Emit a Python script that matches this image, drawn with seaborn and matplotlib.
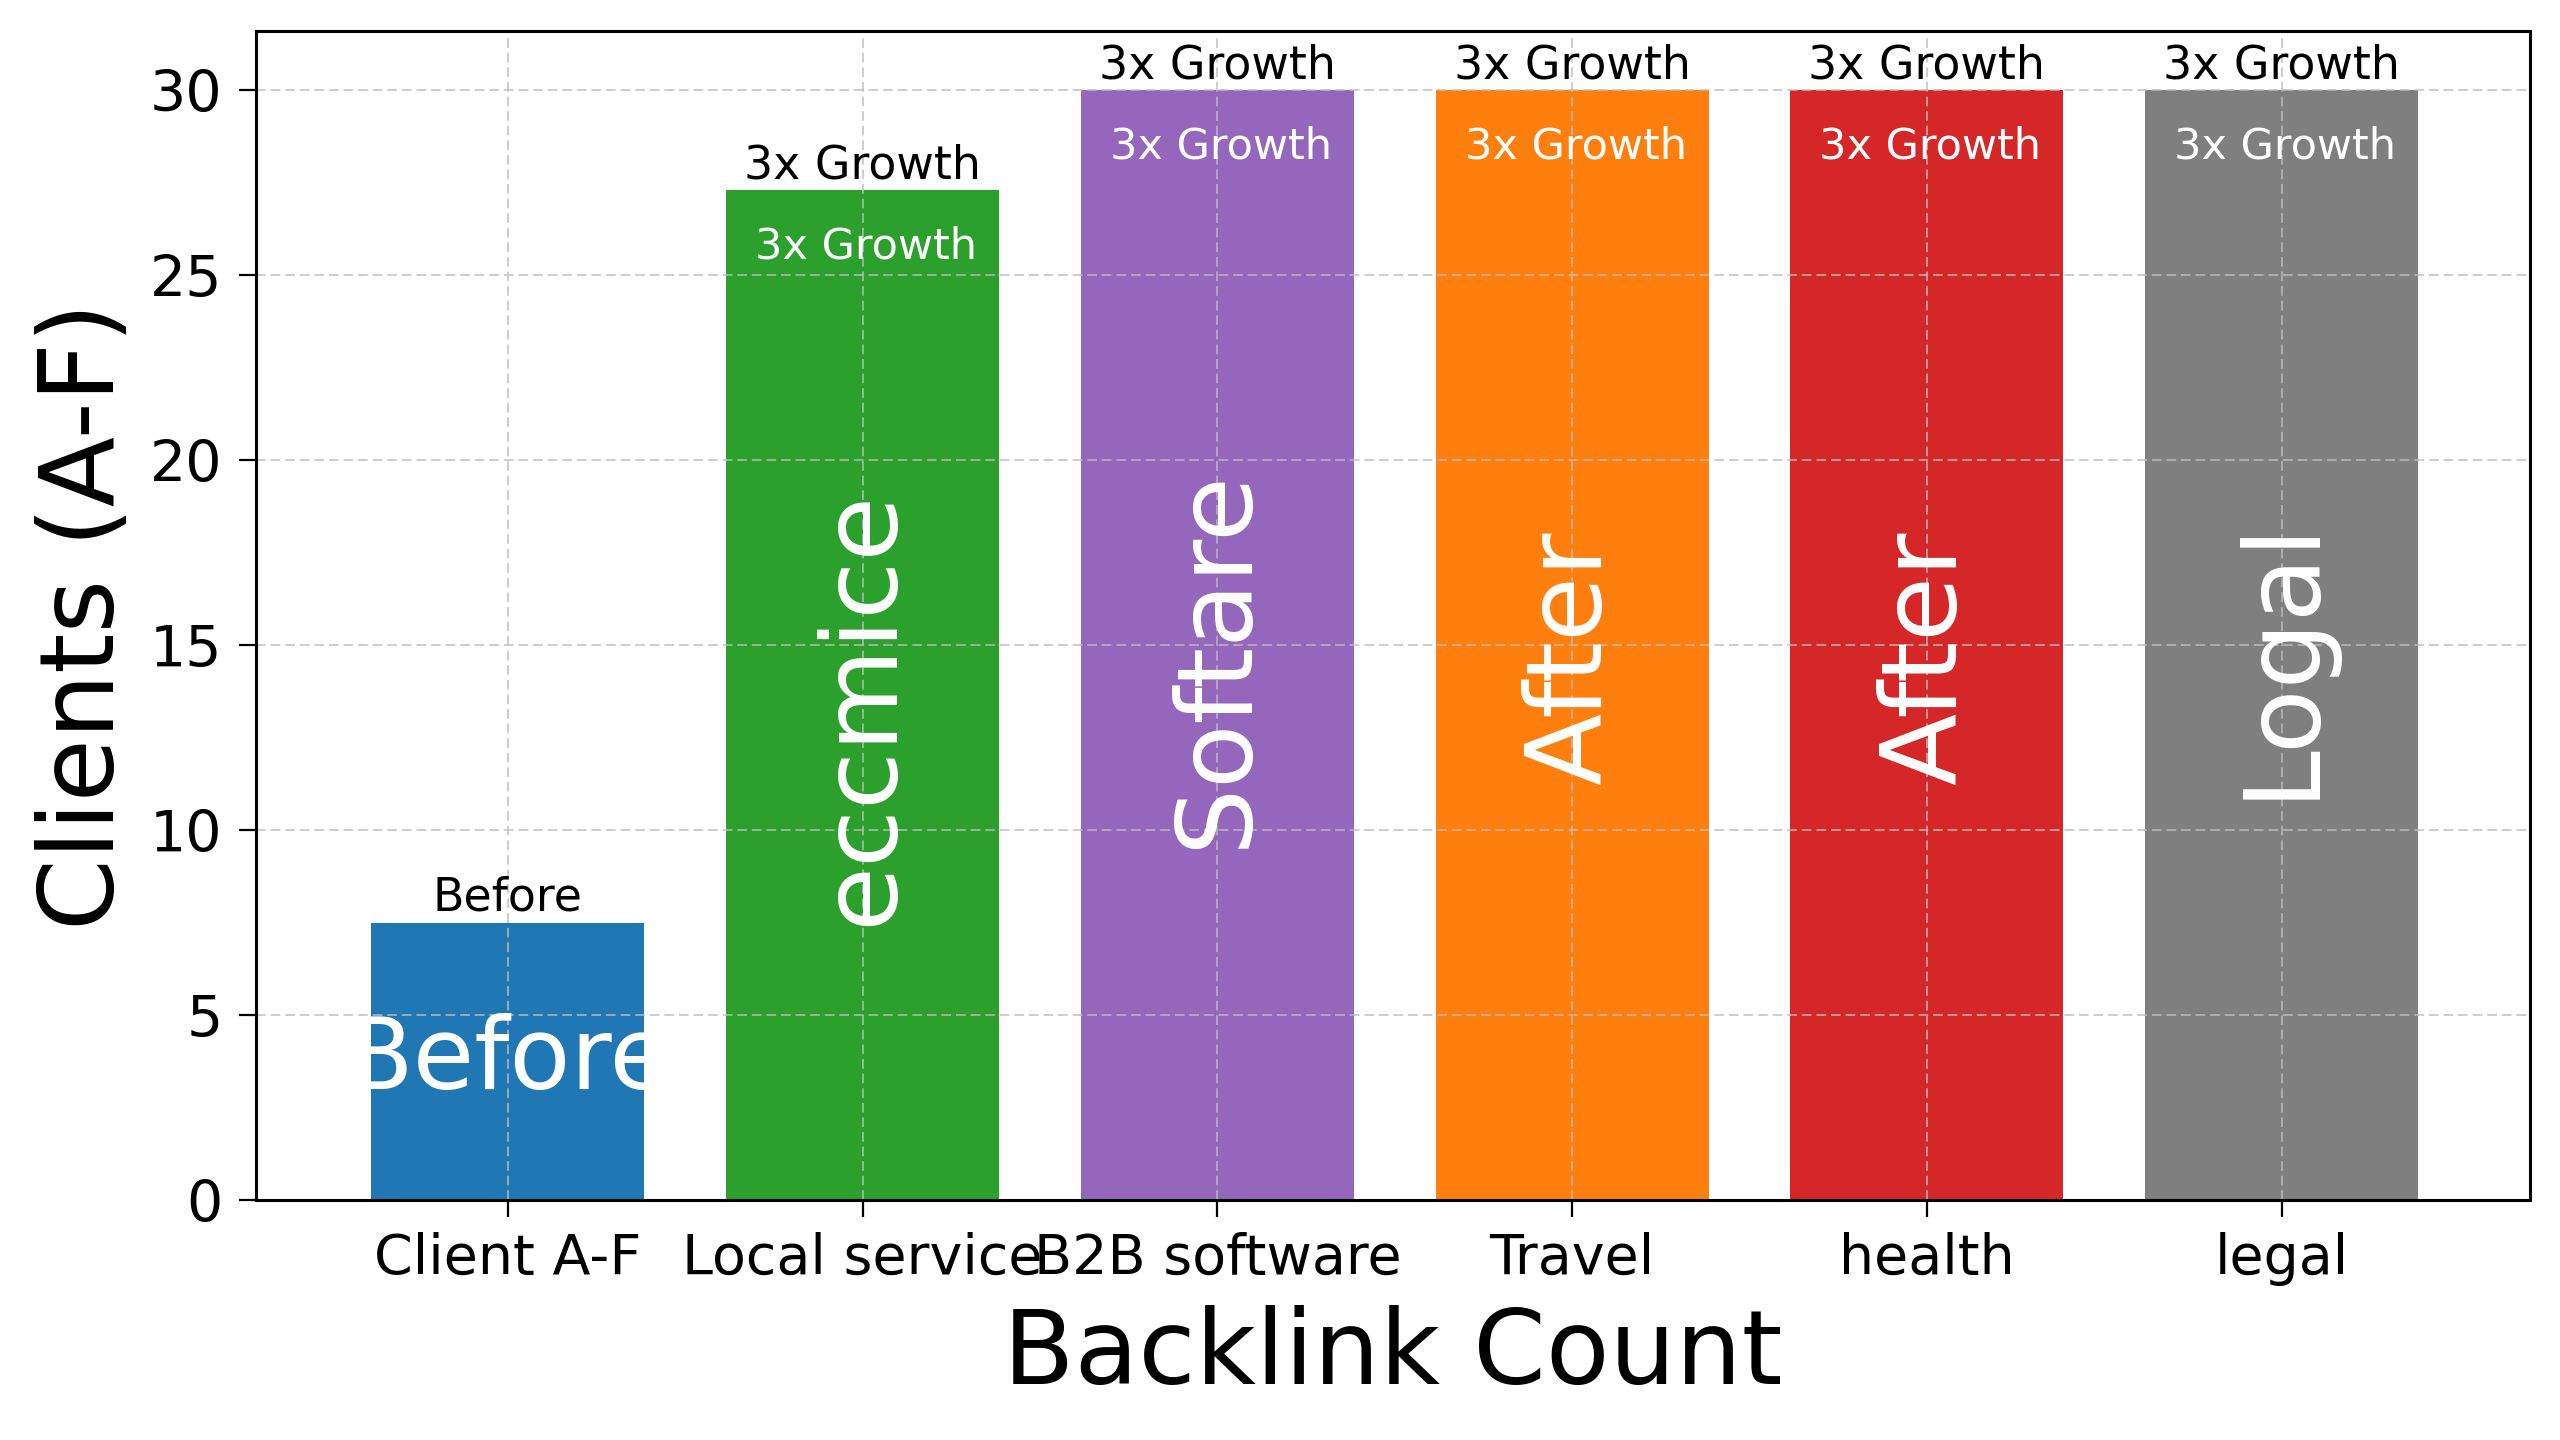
import matplotlib
matplotlib.use("Agg")
import matplotlib.pyplot as plt
from matplotlib.transforms import TransformedBbox
import seaborn as sns
import pandas as pd

# ---- data ----
categories = ["Client A-F", "Local service", "B2B software", "Travel", "health", "legal"]
values = [7.5, 27.3, 30, 30, 30, 30]
above_labels = ["Before", "3x Growth", "3x Growth", "3x Growth", "3x Growth", "3x Growth"]
inner_labels = ["", "3x Growth", "3x Growth", "3x Growth", "3x Growth", "3x Growth"]
bar_words = ["Before", "eccmice", "Softare", "After", "After", "Logal"]
y_ticks = [0, 5, 10, 15, 20, 25, 30]
x_title = "Backlink Count"
y_title = "Clients (A-F)"

bar_colors = ["#1f77b4", "#2ca02c", "#9467bd", "#ff7f0e", "#d62728", "#7f7f7f"]

plt.rcParams["font.family"] = ["DejaVu Sans"]

df = pd.DataFrame({"category": categories, "value": values})

fig = plt.figure(figsize=(25.6, 14.4), dpi=100)
fig.patch.set_facecolor("white")
ax = fig.add_axes([256 / 2560, 1 - 1200 / 1440, (2530 - 256) / 2560, (1200 - 31) / 1440])

sns.barplot(data=df, x="category", y="value", hue="category",
            palette=bar_colors, order=categories, hue_order=categories,
            width=0.77, legend=False, saturation=1, ax=ax)

ax.set_xlim(-0.71, 5.70)
ax.set_ylim(0, 31.6)
ax.set_yticks(y_ticks)
ax.set_xticks(range(len(categories)))
ax.set_xticklabels(categories)

for s in ax.spines.values():
    s.set_visible(True)
    s.set_color("black")
    s.set_linewidth(2.2)
    s.set_zorder(3)

ax.tick_params(axis="both", direction="out", length=12, width=1.6,
               labelsize=41, colors="black")
ax.tick_params(axis="x", pad=11, labelsize=40)
ax.tick_params(axis="y", pad=12)

ax.set_axisbelow(False)
ax.grid(True, axis="both", color="#bdbdbd", alpha=0.75, linewidth=1.4,
        linestyle=(0, (5, 2.5)))

ax.set_xlabel(x_title, fontsize=75, labelpad=14)
ax.set_ylabel(y_title, fontsize=74, labelpad=10)

# map bars to categories
bars = {}
for p in ax.patches:
    cx = p.get_x() + p.get_width() / 2
    bars[int(round(cx))] = p

for i, (cat, v) in enumerate(zip(categories, values)):
    patch = bars[i]
    clipbox = TransformedBbox(patch.get_bbox(), ax.transData)
    # label above bar
    ax.text(i, v + 0.05, above_labels[i], ha="center", va="bottom",
            fontsize=33, color="black", zorder=4)
    # label inside near the top
    if inner_labels[i]:
        ax.text(i + 0.01, v - 0.95, inner_labels[i], ha="center", va="top",
                fontsize=31, color="white", zorder=4)
    # big word in bar
    rot = 0 if i == 0 else 90
    size = 72 if rot == 0 else 76
    yc = v / 2 if rot == 0 else v / 2 - 0.35
    t = ax.text(i, yc, bar_words[i], ha="center", va="center",
                rotation=rot, fontsize=size, color="white", zorder=4)
    t.set_clip_on(True)
    t.set_clip_box(clipbox)

fig.savefig("out.png", dpi=100, facecolor="white")
